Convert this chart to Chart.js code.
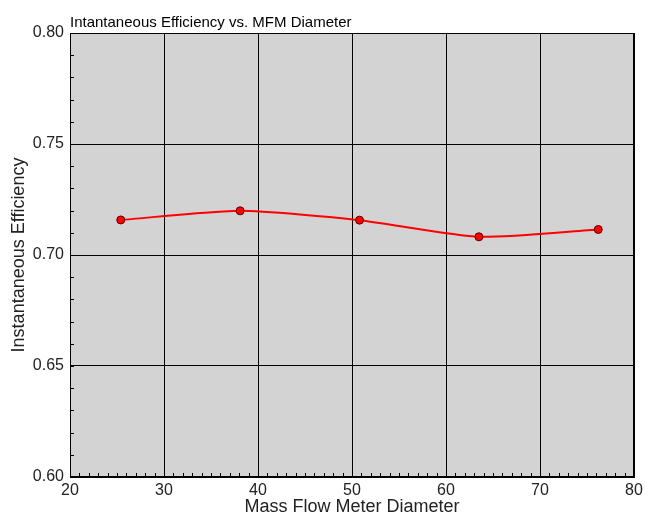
<!DOCTYPE html>
<html>
<head>
<meta charset="utf-8">
<script src="https://cdn.jsdelivr.net/npm/chart.js@4/dist/chart.umd.min.js"></script>
<style>
  html, body { margin: 0; padding: 0; background: #fff; }
  #wrap { width: 650px; height: 518px; }
</style>
</head>
<body>
<div id="wrap"><canvas id="chart" width="650" height="518"></canvas></div>
<script>
// diametres du debitmetre (mm)
const diameters = [25.4, 38.1, 50.8, 63.5, 76.2];
// rendement instantane
const efficiency = [0.7158, 0.7199, 0.7157, 0.7082, 0.7115];
// ticks
const xTicks = [20, 30, 40, 50, 60, 70, 80];
const yTicks = [0.60, 0.65, 0.70, 0.75, 0.80];

const titleText = 'Intantaneous Efficiency vs. MFM Diameter';
const fontFamily = '"Liberation Sans", Arial, sans-serif';

// fond gris + petites graduations + titre
const plotDecor = {
  id: 'plotDecor',
  beforeDraw(chart) {
    const { ctx, chartArea: a } = chart;
    ctx.save();
    ctx.fillStyle = '#d3d3d3';
    ctx.fillRect(a.left, a.top, a.right - a.left, a.bottom - a.top);
    ctx.restore();
  },
  afterDraw(chart) {
    const { ctx, chartArea: a, scales } = chart;
    ctx.save();
    ctx.strokeStyle = '#000';
    ctx.lineWidth = 1;
    ctx.beginPath();
    // minor x ticks
    for (let v = xTicks[0]; v <= xTicks[xTicks.length - 1]; v += 1) {
      const px = Math.round(scales.x.getPixelForValue(v)) + 0.5;
      ctx.moveTo(px, a.bottom);
      ctx.lineTo(px, a.bottom - 4);
    }
    // minor y ticks
    for (let i = 0; i <= 20; i++) {
      const v = yTicks[0] + i * 0.01;
      const py = Math.round(scales.y.getPixelForValue(v)) + 0.5;
      ctx.moveTo(a.left, py);
      ctx.lineTo(a.left + 4, py);
    }
    ctx.stroke();
    ctx.strokeRect(a.left + 0.5, a.top + 0.5, a.right - a.left - 1, a.bottom - a.top - 1);
    // titre
    ctx.fillStyle = '#000';
    ctx.font = '15px ' + fontFamily;
    ctx.textBaseline = 'alphabetic';
    ctx.textAlign = 'left';
    ctx.fillText(titleText, a.left, a.top - 6);
    ctx.restore();
  }
};

new Chart(document.getElementById('chart'), {
  type: 'scatter',
  data: {
    datasets: [{
      data: diameters.map((d, i) => ({ x: d, y: efficiency[i] })),
      showLine: true,
      borderColor: '#ff0000',
      borderWidth: 2,
      tension: 0.2,
      pointRadius: 4,
      pointBackgroundColor: '#ff0000',
      pointBorderColor: '#5a0000',
      pointBorderWidth: 1
    }]
  },
  options: {
    responsive: false,
    animation: false,
    layout: { padding: { top: 33, right: 16, left: 0, bottom: 0 } },
    plugins: {
      legend: { display: false },
      tooltip: { enabled: false }
    },
    scales: {
      x: {
        type: 'linear',
        min: 20,
        max: 80,
        afterBuildTicks: s => { s.ticks = xTicks.map(v => ({ value: v })); },
        afterFit: s => { s.height = 41; },
        grid: { color: '#000', lineWidth: 1, drawTicks: false },
        border: { color: '#000' },
        ticks: { color: '#222', padding: 4, font: { family: fontFamily, size: 16 } },
        title: {
          display: true,
          text: 'Mass Flow Meter Diameter',
          color: '#222',
          padding: { top: -2, bottom: 0 },
          font: { family: fontFamily, size: 18 }
        }
      },
      y: {
        min: 0.60,
        max: 0.80,
        afterBuildTicks: s => { s.ticks = yTicks.map(v => ({ value: v })); },
        afterFit: s => { s.width = 70; },
        grid: { color: '#000', lineWidth: 1, drawTicks: false },
        border: { color: '#000' },
        ticks: {
          color: '#222',
          padding: 6,
          font: { family: fontFamily, size: 16 },
          callback: v => v.toFixed(2)
        },
        title: {
          display: true,
          text: 'Instantaneous Efficiency',
          color: '#222',
          padding: { top: 8, bottom: 0 },
          font: { family: fontFamily, size: 18 }
        }
      }
    }
  },
  plugins: [plotDecor]
});
</script>
</body>
</html>
